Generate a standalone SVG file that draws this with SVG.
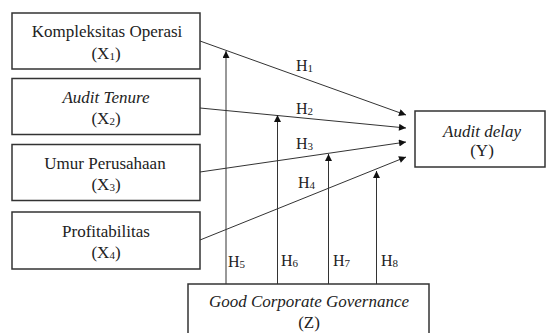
<svg xmlns="http://www.w3.org/2000/svg" width="546" height="333" viewBox="0 0 546 333">
<defs>
<marker id="ah" viewBox="0 0 10 10" refX="10" refY="5" markerWidth="8" markerHeight="7" markerUnits="userSpaceOnUse" orient="auto">
<path d="M0,0 L10,5 L0,10 z" fill="#111"/>
</marker>
</defs>
<style>
.box{fill:#fff;stroke:#333;stroke-width:1.5}
.t{font-family:"Liberation Serif","Times New Roman",serif;font-size:17px;fill:#222;text-anchor:middle}
.i{font-style:italic}
.sub{font-size:11px}
.ln{stroke:#333;stroke-width:1;fill:none}
.lb{font-family:"Liberation Serif","Times New Roman",serif;font-size:16px;fill:#222}
</style>
<rect width="546" height="333" fill="#fff"/>
<g id="connectors">
<line class="ln" x1="200" y1="41" x2="406" y2="115" marker-end="url(#ah)"/>
<line class="ln" x1="200" y1="108" x2="406" y2="128" marker-end="url(#ah)"/>
<line class="ln" x1="200" y1="172" x2="406" y2="142" marker-end="url(#ah)"/>
<line class="ln" x1="200" y1="240" x2="406" y2="157" marker-end="url(#ah)"/>
<line class="ln" x1="226" y1="284" x2="226" y2="51" marker-end="url(#ah)"/>
<line class="ln" x1="277.5" y1="284" x2="277.5" y2="115" marker-end="url(#ah)"/>
<line class="ln" x1="328.5" y1="284" x2="328.5" y2="154" marker-end="url(#ah)"/>
<line class="ln" x1="376.5" y1="284" x2="376.5" y2="171" marker-end="url(#ah)"/>
<text class="lb" x="296" y="71">H<tspan class="sub" dy="1">1</tspan></text>
<text class="lb" x="296" y="114">H<tspan class="sub" dy="1">2</tspan></text>
<text class="lb" x="296" y="149">H<tspan class="sub" dy="1">3</tspan></text>
<text class="lb" x="298" y="188">H<tspan class="sub" dy="1">4</tspan></text>
<text class="lb" x="228" y="267">H<tspan class="sub" dy="1">5</tspan></text>
<text class="lb" x="281" y="266">H<tspan class="sub" dy="1">6</tspan></text>
<text class="lb" x="333" y="266">H<tspan class="sub" dy="1">7</tspan></text>
<text class="lb" x="381" y="266">H<tspan class="sub" dy="1">8</tspan></text>
</g>
<g id="x1">
<rect class="box" x="12" y="13" width="188" height="56"/>
<text class="t" x="107" y="37">Kompleksitas Operasi</text>
<text class="t" x="106" y="59">(X<tspan class="sub" dy="1">1</tspan><tspan dy="-1">)</tspan></text>
</g>
<g id="x2">
<rect class="box" x="12" y="78.5" width="188" height="56"/>
<text class="t i" x="106" y="103">Audit Tenure</text>
<text class="t" x="106" y="124">(X<tspan class="sub" dy="1">2</tspan><tspan dy="-1">)</tspan></text>
</g>
<g id="x3">
<rect class="box" x="12" y="144.5" width="188" height="56"/>
<text class="t" x="105" y="169">Umur Perusahaan</text>
<text class="t" x="106" y="190">(X<tspan class="sub" dy="1">3</tspan><tspan dy="-1">)</tspan></text>
</g>
<g id="x4">
<rect class="box" x="12" y="212" width="188" height="57"/>
<text class="t" x="106" y="237">Profitabilitas</text>
<text class="t" x="106" y="258">(X<tspan class="sub" dy="1">4</tspan><tspan dy="-1">)</tspan></text>
</g>
<g id="y">
<rect class="box" x="415" y="111" width="130" height="56"/>
<text class="t i" x="482" y="137">Audit delay</text>
<text class="t" x="482" y="156">(Y)</text>
</g>
<g id="z">
<rect class="box" x="188" y="284" width="241" height="60"/>
<text class="t i" x="309" y="307">Good Corporate Governance</text>
<text class="t" x="309" y="328">(Z)</text>
</g>
</svg>
